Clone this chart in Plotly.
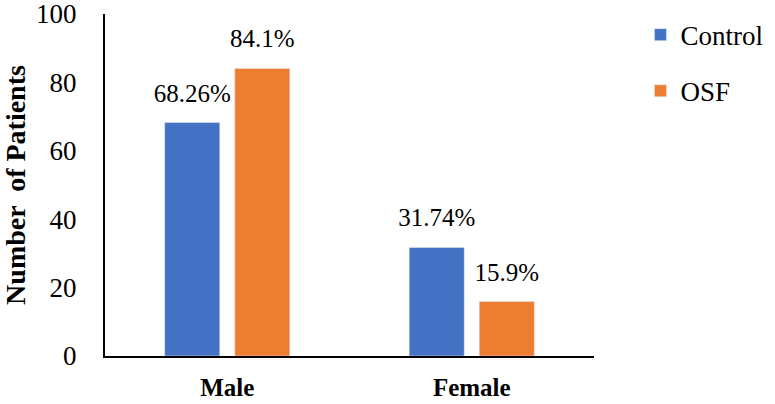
import plotly.graph_objects as go

# Data
genders = ['Male', 'Female']
control_values = [68.26, 31.74]
osf_values = [84.1, 15.9]
control_labels = ['68.26%', '31.74%']
osf_labels = ['84.1%', '15.9%']
y_ticks = [0, 20, 40, 60, 80, 100]

serif = 'Liberation Serif'
label_font = dict(family=serif, size=25, color='black')

fig = go.Figure()
fig.add_trace(go.Bar(x=genders, y=control_values, name='Control',
                     marker_color='#4472C4', legendgroup='a'))
fig.add_trace(go.Bar(x=genders, y=osf_values, name='OSF',
                     marker_color='#ED7D31', legendgroup='b'))

# value labels, grouped the same way as the bars so they sit above them
for vals, labels in [(control_values, control_labels), (osf_values, osf_labels)]:
    fig.add_trace(go.Scatter(
        x=genders, y=vals, text=labels, mode='markers+text',
        textposition='top center', textfont=label_font,
        marker=dict(size=22, opacity=0), showlegend=False,
        cliponaxis=False, hoverinfo='skip'
    ))

fig.update_layout(
    width=775, height=404,
    margin=dict(l=105, r=181, t=14, b=48, autoexpand=False),
    plot_bgcolor='white', paper_bgcolor='white',
    barmode='group', bargap=0.427, bargroupgap=0.214,
    scattermode='group', scattergap=0.427,
    font=dict(family=serif, size=26, color='black'),
    showlegend=True,
    legend=dict(x=1.095, y=1.01, xanchor='left', yanchor='top',
                font=dict(family=serif, size=27, color='black'),
                tracegroupgap=18, itemwidth=30),
)
fig.update_yaxes(
    range=[0, 100], tickvals=y_ticks, showgrid=False, zeroline=False,
    showline=True, linecolor='black', linewidth=2, ticks='',
    tickfont=dict(family=serif, size=27, color='black'),
    ticklabelstandoff=21, ticklabeloverflow='allow',
    title=dict(text='<b>Number  of Patients</b>',
               font=dict(family=serif, size=28, color='black'), standoff=8),
)
fig.update_xaxes(
    showgrid=False, showline=True, linecolor='black', linewidth=2, ticks='',
    tickfont=dict(family=serif, size=25, color='black'),
    ticktext=['<b>Male</b>', '<b>Female</b>'], tickvals=genders,
    ticklabelstandoff=8, ticklabeloverflow='allow',
)

# the page body has a default 8px margin; drop it so the figure fills the window
fig.write_html("out.html", config={'displayModeBar': False},
               post_script="document.body.style.margin='0px';")
